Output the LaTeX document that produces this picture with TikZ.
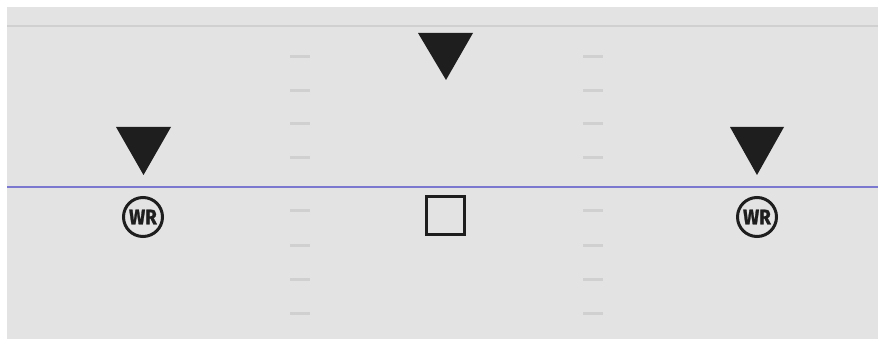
\documentclass[tikz,border=0pt]{standalone}
\usepackage{fontspec}
\setmainfont{Fira Sans}
\newfontfamily\wrfont[BoldFeatures={FakeBold=1.2,FakeStretch=0.9}]{Fira Sans}
\definecolor{field}{HTML}{E3E3E3}
\definecolor{hashc}{HTML}{D0D0D0}
\definecolor{losc}{HTML}{7B79CF}
\definecolor{ink}{HTML}{1E1E1E}
\tikzset{
  hashmark/.style={draw=hashc, line width=3pt},
  deftri/.style={fill=ink, draw=none},
  wrnode/.style={circle, draw=ink, line width=3pt, minimum size=39pt, inner sep=0pt,
    font=\wrfont\fontsize{21}{21}\selectfont\bfseries, text=ink},
  cbox/.style={draw=ink, line width=3pt, minimum size=38pt, inner sep=0pt}
}
\begin{document}
\begin{tikzpicture}[x=1pt,y=-1pt]
\useasboundingbox (0,0) rectangle (878,339);
\fill[white] (0,0) rectangle (878,339);
\fill[field] (7,7) rectangle (878,339);
\coordinate (tl) at (7,26);
\coordinate (tr) at (878,26);
\draw[hashc, line width=2pt] (tl) -- (tr);
\coordinate (ll) at (7,187);
\coordinate (lr) at (878,187);
\draw[losc, line width=1.5pt] (ll) -- (lr);
\foreach \y in {57,91,124,158,211,245,279,313}{
  \draw[hashmark] (290,\y) -- (310,\y);
  \draw[hashmark] (583,\y) -- (603,\y);
}
% defenders
\fill[deftri] (418,33) -- (473,33) -- (446,80) -- cycle;
\fill[deftri] (116,127) -- (171,127) -- (143.5,175) -- cycle;
\fill[deftri] (730,127) -- (784,127) -- (757,175) -- cycle;
% offense
\node[wrnode] (wr1) at (143,217) {WR};
\node[wrnode] (wr2) at (757,217) {WR};
\node[cbox] (c) at (445.5,216) {};
\end{tikzpicture}
\end{document}
